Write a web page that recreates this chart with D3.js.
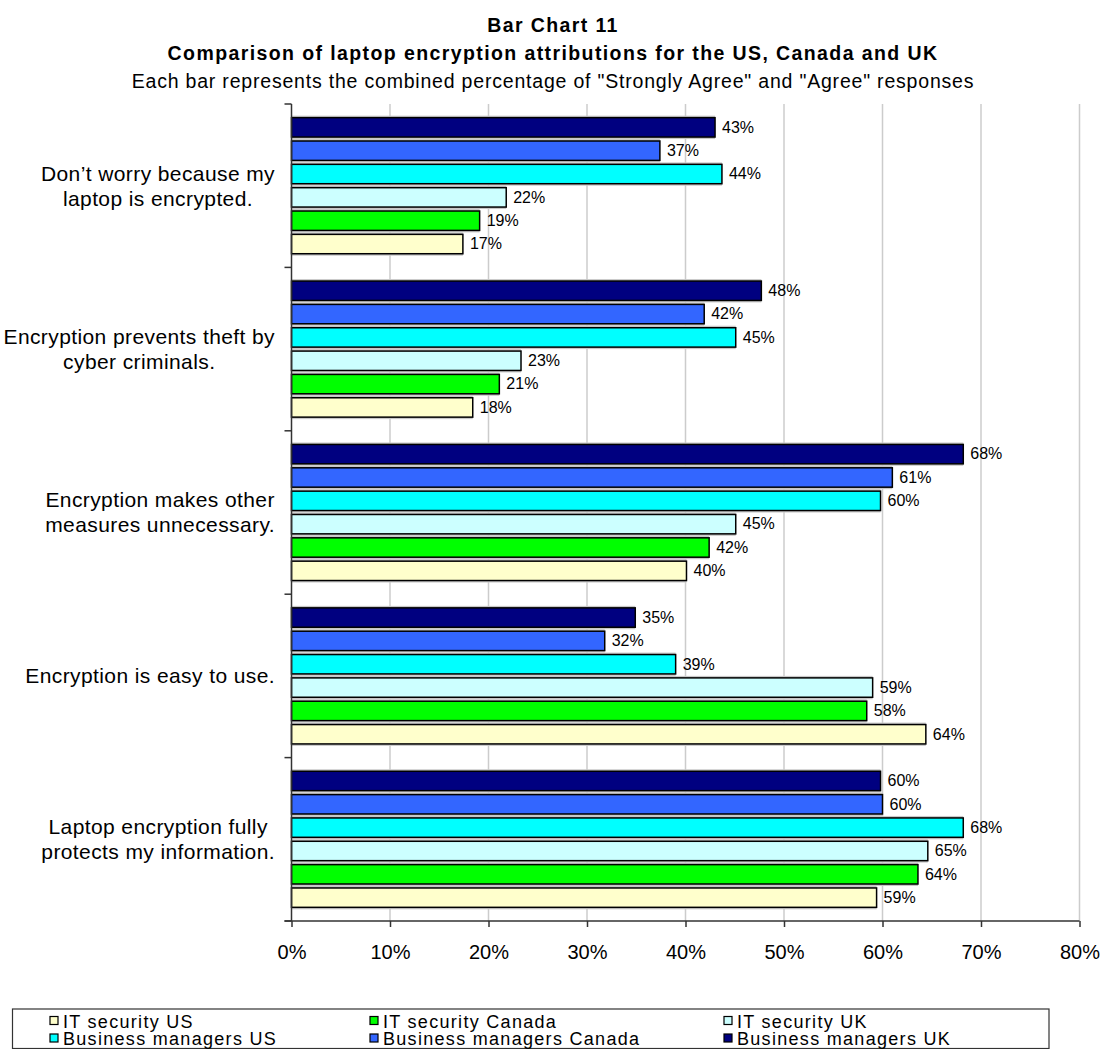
<!DOCTYPE html>
<html>
<head>
<meta charset="utf-8">
<script src="https://cdn.jsdelivr.net/npm/d3@7"></script>
<style>
  html, body { margin: 0; padding: 0; background: #fff; }
  svg { display: block; font-family: "Liberation Sans", Arial, sans-serif; }
</style>
</head>
<body>
<svg id="chart" width="1106" height="1049"></svg>
<script>
// Statements (top to bottom), wrapped as shown on the axis
const categories = [
  ["Don\u2019t worry because my", "laptop is encrypted."],
  ["Encryption prevents theft by", "cyber criminals."],
  ["Encryption makes other", "measures unnecessary."],
  ["Encryption is easy to use."],
  ["Laptop encryption fully", "protects my information."]
];
const categoryKeys = categories.map(c => c.join(" "));

// Series in legend order
const seriesNames = [
  "IT security US", "IT security Canada", "IT security UK",
  "Business managers US", "Business managers Canada", "Business managers UK"
];
const seriesColors = ["#FFFFCC", "#00FF00", "#CCFFFF", "#00FFFF", "#3366FF", "#000080"];

// Combined "Strongly Agree" + "Agree" percentages, one value per statement
const itSecurityUS     = [17.4, 18.4, 40.1, 64.4, 59.4];
const itSecurityCanada = [19.1, 21.1, 42.4, 58.4, 63.6];
const itSecurityUK     = [21.8, 23.3, 45.1, 59.0, 64.6];
const businessUS       = [43.7, 45.1, 59.8, 39.0, 68.2];
const businessCanada   = [37.4, 41.9, 61.0, 31.8, 60.0];
const businessUK       = [43.0, 47.7, 68.2, 34.9, 59.8];
const seriesValues = [itSecurityUS, itSecurityCanada, itSecurityUK, businessUS, businessCanada, businessUK];

const xTicks = [0, 10, 20, 30, 40, 50, 60, 70, 80];

const titleLines = [
  "Bar Chart  11",
  "Comparison of laptop encryption attributions for the US, Canada and UK"
];
const subtitle = "Each bar represents the combined percentage of \"Strongly Agree\" and \"Agree\" responses";

const svg = d3.select("#chart");

// Plot area
const plot = { left: 291.5, right: 1079.5, top: 104, bottom: 921 };

const x = d3.scaleLinear().domain([0, 80]).range([plot.left, plot.right]);
const y = d3.scaleBand().domain(categoryKeys).range([plot.top, plot.bottom])
  .paddingInner(0.143).paddingOuter(0.0715);
// Last series sits on top within each group
const ySeries = d3.scaleBand().domain(seriesNames.slice().reverse())
  .range([0, y.bandwidth()]).paddingInner(0.17).paddingOuter(0.085);

// Titles
svg.append("text").attr("x", 553).attr("y", 32).attr("text-anchor", "middle")
  .attr("font-weight", "bold").attr("font-size", 19.5).attr("letter-spacing", 1.4)
  .text(titleLines[0]);
svg.append("text").attr("x", 553).attr("y", 60).attr("text-anchor", "middle")
  .attr("font-weight", "bold").attr("font-size", 19.5).attr("letter-spacing", 1.4)
  .text(titleLines[1]);
svg.append("text").attr("x", 553).attr("y", 88).attr("text-anchor", "middle")
  .attr("font-size", 19.5).attr("letter-spacing", 0.8)
  .text(subtitle);

// Vertical gridlines
svg.append("g").selectAll("line").data(xTicks.slice(1)).join("line")
  .attr("x1", d => x(d)).attr("x2", d => x(d))
  .attr("y1", plot.top).attr("y2", plot.bottom)
  .attr("stroke", "#cccccc").attr("stroke-width", 1.5);

// Bars, each with a thin grey edge above and below
const groups = svg.append("g").selectAll("g").data(seriesNames).join("g");
groups.each(function (name, si) {
  const g = d3.select(this);
  g.selectAll("rect.edge").data(seriesValues[si]).join("rect")
    .attr("class", "edge")
    .attr("x", x(0))
    .attr("y", (v, ci) => y(categoryKeys[ci]) + ySeries(name) - 2)
    .attr("width", v => x(v) - x(0))
    .attr("height", ySeries.bandwidth() + 4)
    .attr("fill", "#c8c8c8");
  g.selectAll("rect.bar").data(seriesValues[si]).join("rect")
    .attr("class", "bar")
    .attr("x", x(0))
    .attr("y", (v, ci) => y(categoryKeys[ci]) + ySeries(name))
    .attr("width", v => x(v) - x(0))
    .attr("height", ySeries.bandwidth())
    .attr("fill", seriesColors[si])
    .attr("stroke", "#000").attr("stroke-width", 1.5);
});

// Value labels
const fmt = d3.format(".0f");
groups.each(function (name, si) {
  d3.select(this).selectAll("text").data(seriesValues[si]).join("text")
    .attr("x", v => x(v) + 7)
    .attr("y", (v, ci) => y(categoryKeys[ci]) + ySeries(name) + ySeries.bandwidth() / 2)
    .attr("dy", "0.33em")
    .attr("fill", "#000").attr("font-size", 16)
    .text(v => fmt(v) + "%");
});

// X axis
const xAxis = d3.axisBottom(x).tickValues(xTicks).tickFormat(d => d + "%")
  .tickSizeInner(6).tickSizeOuter(0).tickPadding(18);
const gx = svg.append("g").attr("transform", `translate(0,${plot.bottom})`).call(xAxis);
gx.select(".domain").attr("stroke", "#333").attr("stroke-width", 1.5)
  .attr("d", `M${plot.left - 7},0H${plot.right}`);
gx.selectAll(".tick line").attr("stroke", "#333").attr("stroke-width", 1.5);
gx.selectAll(".tick text").attr("font-size", 20).attr("fill", "#000")
  .attr("font-family", "Liberation Sans, Arial, sans-serif");

// Y axis line with ticks at category boundaries
const boundaries = categoryKeys.map(k => y(k) - y.step() * y.paddingInner() / 2);
boundaries.push(plot.bottom);
svg.append("line").attr("x1", plot.left).attr("x2", plot.left)
  .attr("y1", plot.top).attr("y2", plot.bottom)
  .attr("stroke", "#333").attr("stroke-width", 1.5);
svg.append("g").selectAll("line").data(boundaries).join("line")
  .attr("x1", plot.left - 7).attr("x2", plot.left)
  .attr("y1", d => d).attr("y2", d => d)
  .attr("stroke", "#333").attr("stroke-width", 1.5);

// Category labels: lines centred on each other, block right-aligned to the axis
const labelRight = 275;
categories.forEach((lines, ci) => {
  const cy = y(categoryKeys[ci]) + y.bandwidth() / 2;
  const t = svg.append("text").attr("font-size", 21).attr("letter-spacing", 0.4).attr("fill", "#000");
  const lineH = 25;
  lines.forEach((ln, li) => {
    t.append("tspan").attr("y", cy + (li - (lines.length - 1) / 2) * lineH).attr("dy", "0.35em").text(ln);
  });
  let maxW = 0;
  t.selectAll("tspan").each(function () { maxW = Math.max(maxW, this.getComputedTextLength()); });
  t.attr("text-anchor", "middle");
  t.selectAll("tspan").attr("x", labelRight - maxW / 2);
});

// Legend
const legend = { left: 12.5, top: 1009, right: 1049, bottom: 1048.5 };
svg.append("rect").attr("x", legend.left).attr("y", legend.top)
  .attr("width", legend.right - legend.left).attr("height", legend.bottom - legend.top)
  .attr("fill", "#fff").attr("stroke", "#333").attr("stroke-width", 1.2);
const colX = [50, 370, 724];
const rowBase = [1027.5, 1045];
const items = svg.append("g").selectAll("g").data(seriesNames).join("g")
  .attr("transform", (d, i) => `translate(${colX[i % 3]},${rowBase[Math.floor(i / 3)]})`);
items.append("rect").attr("x", 0).attr("y", -11).attr("width", 8).attr("height", 8)
  .attr("fill", (d, i) => seriesColors[i]).attr("stroke", "#000").attr("stroke-width", 1.2);
items.append("text").attr("x", 13).attr("font-size", 18)
  .attr("letter-spacing", 1.3)
  .text(d => d);
</script>
</body>
</html>
